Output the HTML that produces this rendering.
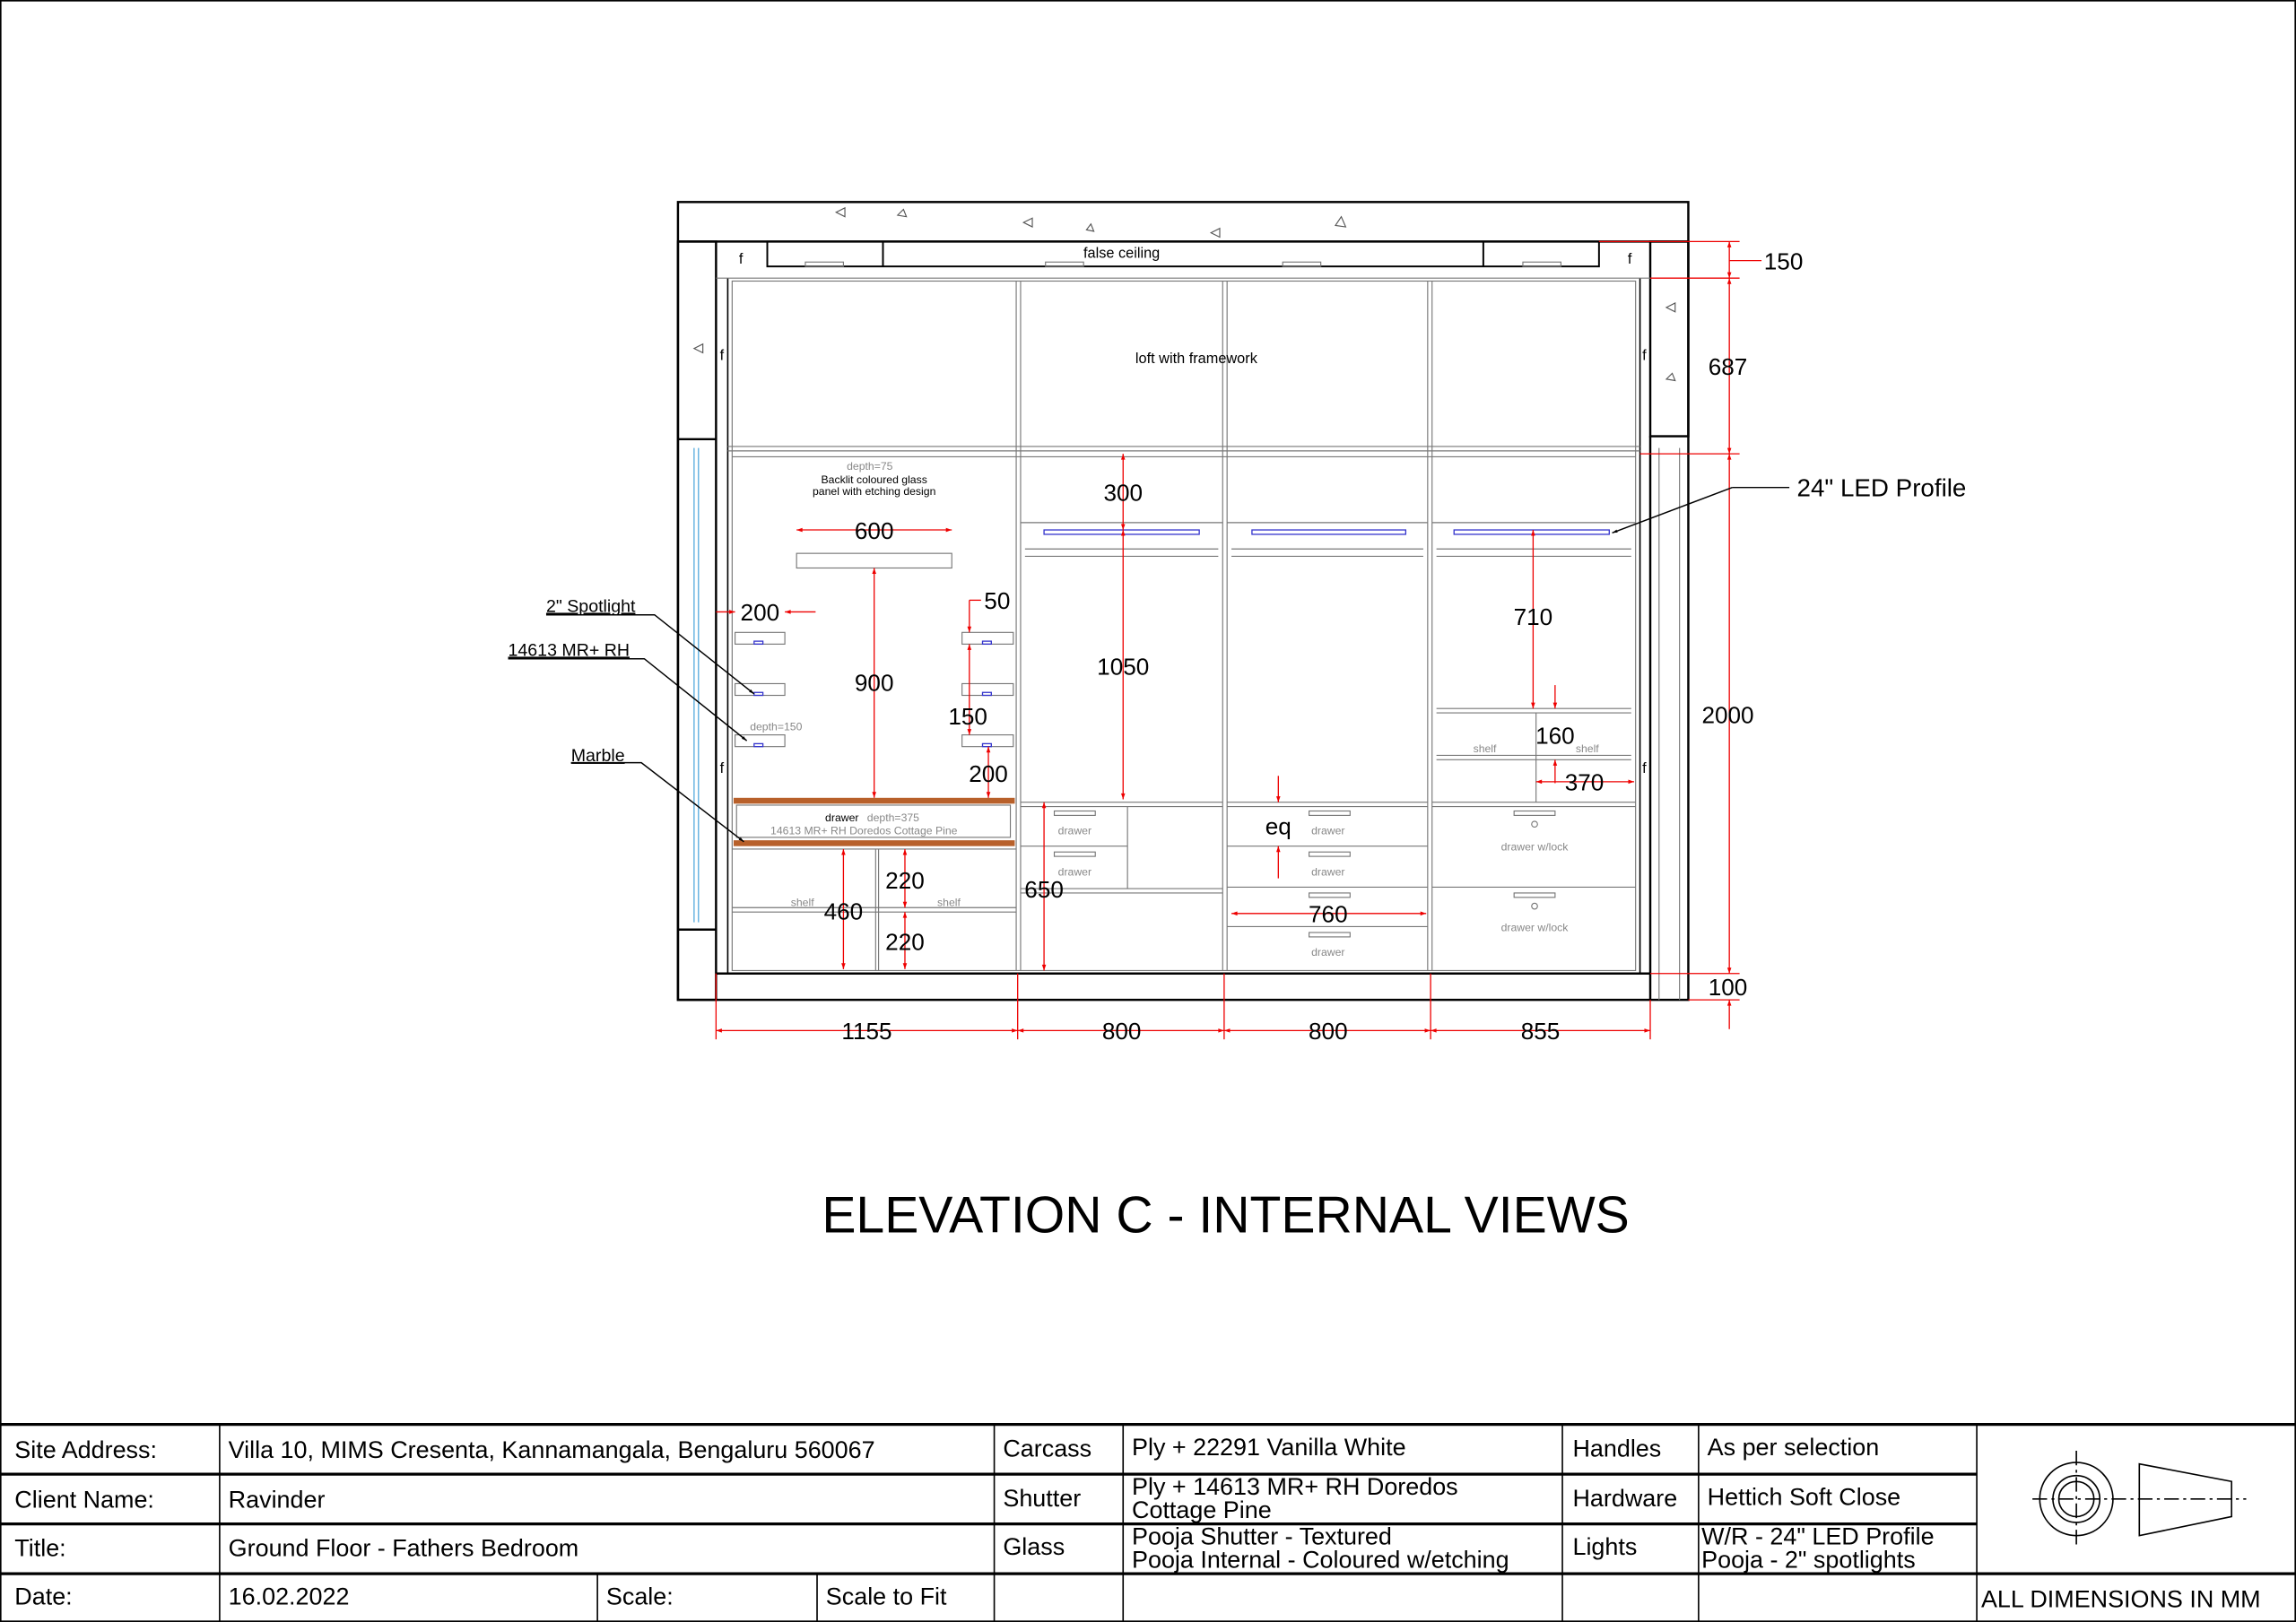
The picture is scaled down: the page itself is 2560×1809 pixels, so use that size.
<!DOCTYPE html>
<html><head><meta charset="utf-8"><style>
html,body{margin:0;padding:0;background:#fff}
svg{display:block}
text{font-family:"Liberation Sans",sans-serif}
</style></head><body>
<svg width="2560" height="1809" viewBox="0 0 1568 1108" xmlns="http://www.w3.org/2000/svg">
<defs>
<marker id="a" viewBox="0 0 10 10" refX="10" refY="5" markerWidth="7" markerHeight="5" orient="auto-start-reverse"><path d="M0,1.5 L10,5 L0,8.5z" fill="#e00"/></marker>
<marker id="k" viewBox="0 0 10 10" refX="10" refY="5" markerWidth="6" markerHeight="4" orient="auto"><path d="M0,2 L10,5 L0,8z" fill="#000"/></marker>
</defs>
<rect x="0.5" y="0.5" width="1567" height="1107" fill="none" stroke="#000" stroke-width="1"/>
<!-- structure -->
<g fill="none" stroke="#000" stroke-width="1.5">
<rect x="463" y="138" width="690" height="545"/>
<line x1="463" y1="165" x2="1153" y2="165"/>
<rect x="463" y="165" width="26" height="518"/>
<line x1="463" y1="300" x2="489" y2="300"/>
<line x1="463" y1="635" x2="489" y2="635"/>
<rect x="1127" y="165" width="26" height="133"/>
<line x1="1127" y1="298" x2="1127" y2="683"/>
<line x1="489" y1="665" x2="1127" y2="665"/>
<rect x="524" y="165" width="568" height="17" stroke-width="1.2"/>
<line x1="603" y1="165" x2="603" y2="182" stroke-width="1.2"/>
<line x1="1013" y1="165" x2="1013" y2="182" stroke-width="1.2"/>
<line x1="497" y1="190" x2="497" y2="665" stroke-width="1"/>
<line x1="1120" y1="190" x2="1120" y2="665" stroke-width="1"/>
</g>
<g stroke="#5ad" stroke-width="0.8"><line x1="474" y1="306" x2="474" y2="630"/><line x1="477" y1="306" x2="477" y2="630"/></g>
<g fill="none" stroke="#777" stroke-width="0.7">
<rect x="550" y="179" width="26" height="3"/><rect x="714" y="179" width="26" height="3"/><rect x="876" y="179" width="26" height="3"/><rect x="1040" y="179" width="26" height="3"/>
<line x1="1133" y1="306" x2="1133" y2="683"/><line x1="1147" y1="306" x2="1147" y2="683"/>
<line x1="489" y1="190" x2="1127" y2="190"/>
<rect x="500" y="192" width="617" height="471"/>
<line x1="497" y1="305" x2="1120" y2="305"/><line x1="497" y1="308" x2="1120" y2="308"/>
<line x1="500" y1="312" x2="1117" y2="312"/>
<line x1="694" y1="192" x2="694" y2="663"/><line x1="697" y1="192" x2="697" y2="663"/>
<line x1="835" y1="192" x2="835" y2="663"/><line x1="838" y1="192" x2="838" y2="663"/>
<line x1="975" y1="192" x2="975" y2="663"/><line x1="978" y1="192" x2="978" y2="663"/>
<!-- col1 -->
<rect x="544" y="378" width="106" height="10"/>
<rect x="502" y="432" width="34" height="8"/><rect x="502" y="467" width="34" height="8"/><rect x="502" y="502" width="34" height="8"/>
<rect x="657" y="432" width="35" height="8"/><rect x="657" y="467" width="35" height="8"/><rect x="657" y="502" width="35" height="8"/>
<rect x="503" y="550" width="187" height="22"/>
<line x1="500" y1="580" x2="694" y2="580"/><line x1="598" y1="580" x2="598" y2="663"/><line x1="600" y1="580" x2="600" y2="663"/>
<line x1="500" y1="620" x2="694" y2="620"/><line x1="500" y1="623" x2="694" y2="623"/>
<!-- col2 -->
<line x1="697" y1="357" x2="835" y2="357"/><line x1="700" y1="375" x2="832" y2="375"/><line x1="700" y1="380" x2="832" y2="380"/>
<line x1="697" y1="548" x2="835" y2="548"/><line x1="697" y1="551" x2="835" y2="551"/>
<line x1="697" y1="578" x2="770" y2="578"/><line x1="770" y1="551" x2="770" y2="607"/>
<line x1="697" y1="607" x2="835" y2="607"/><line x1="697" y1="610" x2="835" y2="610"/>
<rect x="720" y="554" width="28" height="3"/><rect x="720" y="582" width="28" height="3"/>
<!-- col3 -->
<line x1="838" y1="357" x2="975" y2="357"/><line x1="841" y1="375" x2="972" y2="375"/><line x1="841" y1="380" x2="972" y2="380"/>
<line x1="838" y1="548" x2="975" y2="548"/><line x1="838" y1="551" x2="975" y2="551"/>
<line x1="838" y1="578" x2="975" y2="578"/><line x1="838" y1="606" x2="975" y2="606"/><line x1="838" y1="633" x2="975" y2="633"/>
<rect x="894" y="554" width="28" height="3"/><rect x="894" y="582" width="28" height="3"/><rect x="894" y="610" width="28" height="3"/><rect x="894" y="637" width="28" height="3"/>
<!-- col4 -->
<line x1="978" y1="357" x2="1117" y2="357"/><line x1="981" y1="375" x2="1114" y2="375"/><line x1="981" y1="380" x2="1114" y2="380"/>
<line x1="981" y1="484" x2="1114" y2="484"/><line x1="981" y1="487" x2="1114" y2="487"/>
<line x1="981" y1="516" x2="1114" y2="516"/><line x1="981" y1="519" x2="1114" y2="519"/>
<line x1="1049" y1="487" x2="1049" y2="548"/>
<line x1="978" y1="548" x2="1117" y2="548"/><line x1="978" y1="551" x2="1117" y2="551"/>
<line x1="978" y1="606" x2="1117" y2="606"/>
<rect x="1034" y="554" width="28" height="3"/><rect x="1034" y="610" width="28" height="3"/>
<circle cx="1048" cy="563" r="2"/><circle cx="1048" cy="619" r="2"/>
</g>
<g fill="none" stroke="#33c" stroke-width="0.8">
<rect x="713" y="362" width="106" height="3"/><rect x="855" y="362" width="105" height="3"/><rect x="993" y="362" width="106" height="3"/>
<rect x="515" y="438" width="6" height="2"/><rect x="515" y="473" width="6" height="2"/><rect x="515" y="508" width="6" height="2"/>
<rect x="671" y="438" width="6" height="2"/><rect x="671" y="473" width="6" height="2"/><rect x="671" y="508" width="6" height="2"/>
</g>
<rect x="501" y="545" width="192" height="4" fill="#b8602a"/>
<rect x="501" y="574" width="192" height="4" fill="#b8602a"/>
<!-- small triangles -->
<g fill="none" stroke="#555" stroke-width="0.7">
<path d="M571,145 l6,-3 0,6z"/><path d="M613,147 l4,-4 2,5z"/><path d="M699,152 l6,-3 0,6z"/><path d="M742,157 l3,-4 2,5z"/><path d="M827,159 l6,-3 0,6z"/><path d="M912,154 l4,-6 3,7z"/><path d="M474,238 l6,-3 0,6z"/><path d="M1138,210 l6,-3 0,6z"/><path d="M1138,259 l4,-4 2,5z"/>
</g>
<!-- red dims -->
<g stroke="#e00" stroke-width="0.8" fill="none">
<line x1="544" y1="362" x2="650" y2="362" marker-start="url(#a)" marker-end="url(#a)"/>
<line x1="597" y1="388" x2="597" y2="545" marker-start="url(#a)" marker-end="url(#a)"/>
<line x1="489" y1="418" x2="502" y2="418" marker-end="url(#a)"/><line x1="557" y1="418" x2="536" y2="418" marker-end="url(#a)"/>
<line x1="662" y1="410" x2="662" y2="432" marker-end="url(#a)"/><line x1="662" y1="410" x2="670" y2="410"/>
<line x1="662" y1="440" x2="662" y2="502" marker-start="url(#a)" marker-end="url(#a)"/>
<line x1="675" y1="510" x2="675" y2="545" marker-start="url(#a)" marker-end="url(#a)"/>
<line x1="576" y1="580" x2="576" y2="662" marker-start="url(#a)" marker-end="url(#a)"/>
<line x1="618" y1="580" x2="618" y2="620" marker-start="url(#a)" marker-end="url(#a)"/>
<line x1="618" y1="623" x2="618" y2="662" marker-start="url(#a)" marker-end="url(#a)"/>
<line x1="767" y1="310" x2="767" y2="362" marker-start="url(#a)" marker-end="url(#a)"/>
<line x1="767" y1="362" x2="767" y2="546" marker-start="url(#a)" marker-end="url(#a)"/>
<line x1="713" y1="548" x2="713" y2="663" marker-start="url(#a)" marker-end="url(#a)"/>
<line x1="873" y1="530" x2="873" y2="548" marker-end="url(#a)"/><line x1="873" y1="600" x2="873" y2="578" marker-end="url(#a)"/>
<line x1="841" y1="624" x2="974" y2="624" marker-start="url(#a)" marker-end="url(#a)"/>
<line x1="1047" y1="362" x2="1047" y2="484" marker-start="url(#a)" marker-end="url(#a)"/>
<line x1="1062" y1="468" x2="1062" y2="484" marker-end="url(#a)"/><line x1="1062" y1="535" x2="1062" y2="519" marker-end="url(#a)"/>
<line x1="1049" y1="534" x2="1116" y2="534" marker-start="url(#a)" marker-end="url(#a)"/>
<line x1="489" y1="704" x2="695" y2="704" marker-start="url(#a)" marker-end="url(#a)"/>
<line x1="695" y1="704" x2="836" y2="704" marker-start="url(#a)" marker-end="url(#a)"/>
<line x1="836" y1="704" x2="977" y2="704" marker-start="url(#a)" marker-end="url(#a)"/>
<line x1="977" y1="704" x2="1127" y2="704" marker-start="url(#a)" marker-end="url(#a)"/>
<line x1="489" y1="665" x2="489" y2="710"/><line x1="695" y1="665" x2="695" y2="710"/><line x1="836" y1="665" x2="836" y2="710"/><line x1="977" y1="665" x2="977" y2="710"/><line x1="1127" y1="683" x2="1127" y2="710"/>
<line x1="1181" y1="165" x2="1181" y2="190" marker-start="url(#a)" marker-end="url(#a)"/>
<line x1="1181" y1="190" x2="1181" y2="310" marker-start="url(#a)" marker-end="url(#a)"/>
<line x1="1181" y1="310" x2="1181" y2="665" marker-start="url(#a)" marker-end="url(#a)"/>
<line x1="1181" y1="703" x2="1181" y2="683" marker-end="url(#a)"/>
<line x1="1092" y1="165" x2="1188" y2="165"/><line x1="1127" y1="190" x2="1188" y2="190"/><line x1="1120" y1="310" x2="1188" y2="310"/><line x1="1127" y1="665" x2="1188" y2="665"/><line x1="1153" y1="683" x2="1188" y2="683"/>
<line x1="1181" y1="178" x2="1203" y2="178"/>
</g>
<!-- leaders -->
<g stroke="#000" stroke-width="0.9" fill="none">
<line x1="1222" y1="333" x2="1183" y2="333"/><line x1="1183" y1="333" x2="1101" y2="364" marker-end="url(#k)"/>
<polyline points="373,420 447,420 515,474" marker-end="url(#k)"/>
<polyline points="347,450 440,450 510,506" marker-end="url(#k)"/>
<polyline points="390,521 438,521 508,575" marker-end="url(#k)"/>
</g>
<!-- texts -->
<g font-size="16" text-anchor="middle" fill="#000">
<text x="597" y="368">600</text><text x="597" y="472">900</text><text x="519" y="424">200</text><text x="681" y="416">50</text><text x="661" y="495">150</text><text x="675" y="534">200</text>
<text x="576" y="628">460</text><text x="618" y="607">220</text><text x="618" y="649">220</text>
<text x="767" y="342">300</text><text x="767" y="461">1050</text><text x="713" y="613">650</text>
<text x="873" y="570">eq</text><text x="907" y="630">760</text>
<text x="1047" y="427">710</text><text x="1062" y="508">160</text><text x="1082" y="540">370</text>
<text x="592" y="710">1155</text><text x="766" y="710">800</text><text x="907" y="710">800</text><text x="1052" y="710">855</text>
<text x="1180" y="256">687</text><text x="1180" y="494">2000</text><text x="1180" y="680">100</text>
<text x="1218" y="184">150</text>
<text x="1285" y="339" font-size="17">24" LED Profile</text>
</g>
<g font-size="12" fill="#000" text-decoration="underline">
<text x="373" y="418">2" Spotlight</text><text x="347" y="448">14613 MR+ RH</text><text x="390" y="520">Marble</text>
</g>
<g font-size="10" text-anchor="middle" fill="#000">
<text x="766" y="176">false ceiling</text><text x="817" y="248">loft with framework</text>
<text x="506" y="180">f</text><text x="1113" y="180">f</text><text x="493" y="246">f</text><text x="1123" y="246">f</text><text x="493" y="528">f</text><text x="1123" y="528">f</text>
</g>
<g font-size="7.5" text-anchor="middle" fill="#000">
<text x="597" y="330">Backlit coloured glass</text><text x="597" y="338">panel with etching design</text>
<text x="575" y="561">drawer</text>
</g>
<g font-size="7.5" text-anchor="middle" fill="#888">
<text x="594" y="321">depth=75</text><text x="530" y="499">depth=150</text><text x="610" y="561">depth=375</text>
<text x="590" y="570">14613 MR+ RH Doredos Cottage Pine</text>
<text x="548" y="619">shelf</text><text x="648" y="619">shelf</text>
<text x="734" y="570">drawer</text><text x="734" y="598">drawer</text>
<text x="907" y="570">drawer</text><text x="907" y="598">drawer</text><text x="907" y="653">drawer</text>
<text x="1014" y="514">shelf</text><text x="1084" y="514">shelf</text>
<text x="1048" y="581">drawer w/lock</text><text x="1048" y="636">drawer w/lock</text>
</g>
<text x="837" y="842" font-size="35" text-anchor="middle">ELEVATION C - INTERNAL VIEWS</text>
<!-- title block -->
<g stroke="#000" fill="none">
<line x1="0" y1="973" x2="1568" y2="973" stroke-width="2"/>
<line x1="0" y1="1007" x2="1350" y2="1007" stroke-width="2"/>
<line x1="0" y1="1041" x2="1350" y2="1041" stroke-width="2"/>
<line x1="0" y1="1075" x2="1568" y2="1075" stroke-width="2"/>
<g stroke-width="1">
<line x1="150" y1="973" x2="150" y2="1108"/><line x1="679" y1="973" x2="679" y2="1108"/><line x1="767" y1="973" x2="767" y2="1108"/><line x1="1067" y1="973" x2="1067" y2="1108"/><line x1="1160" y1="973" x2="1160" y2="1108"/><line x1="1350" y1="973" x2="1350" y2="1108"/>
<line x1="408" y1="1075" x2="408" y2="1108"/><line x1="558" y1="1075" x2="558" y2="1108"/>
<circle cx="1418" cy="1024" r="25"/><circle cx="1418" cy="1024" r="16"/><circle cx="1418" cy="1024" r="12"/>
<path d="M1461,1000 L1524,1012 L1524,1036 L1461,1049z"/>
<line x1="1388" y1="1024" x2="1534" y2="1024" stroke-dasharray="10,3,2,3"/>
<line x1="1418" y1="991" x2="1418" y2="1057" stroke-dasharray="10,3,2,3"/>
</g>
</g>
<g font-size="16.5" fill="#000">
<text x="10" y="996">Site Address:</text><text x="156" y="996">Villa 10, MIMS Cresenta, Kannamangala, Bengaluru 560067</text>
<text x="685" y="995">Carcass</text><text x="773" y="994">Ply + 22291 Vanilla White</text>
<text x="1074" y="995">Handles</text><text x="1166" y="994">As per selection</text>
<text x="10" y="1030">Client Name:</text><text x="156" y="1030">Ravinder</text>
<text x="685" y="1029">Shutter</text><text x="773" y="1021">Ply + 14613 MR+ RH Doredos</text><text x="773" y="1037">Cottage Pine</text>
<text x="1074" y="1029">Hardware</text><text x="1166" y="1028">Hettich Soft Close</text>
<text x="10" y="1063">Title:</text><text x="156" y="1063">Ground Floor - Fathers Bedroom</text>
<text x="685" y="1062">Glass</text><text x="773" y="1055">Pooja Shutter - Textured</text><text x="773" y="1071">Pooja Internal - Coloured w/etching</text>
<text x="1074" y="1062">Lights</text><text x="1162" y="1055">W/R - 24" LED Profile</text><text x="1162" y="1071">Pooja - 2" spotlights</text>
<text x="10" y="1096">Date:</text><text x="156" y="1096">16.02.2022</text><text x="414" y="1096">Scale:</text><text x="564" y="1096">Scale to Fit</text>
<text x="1353" y="1098">ALL DIMENSIONS IN MM</text>
</g>
</svg>
</body></html>
